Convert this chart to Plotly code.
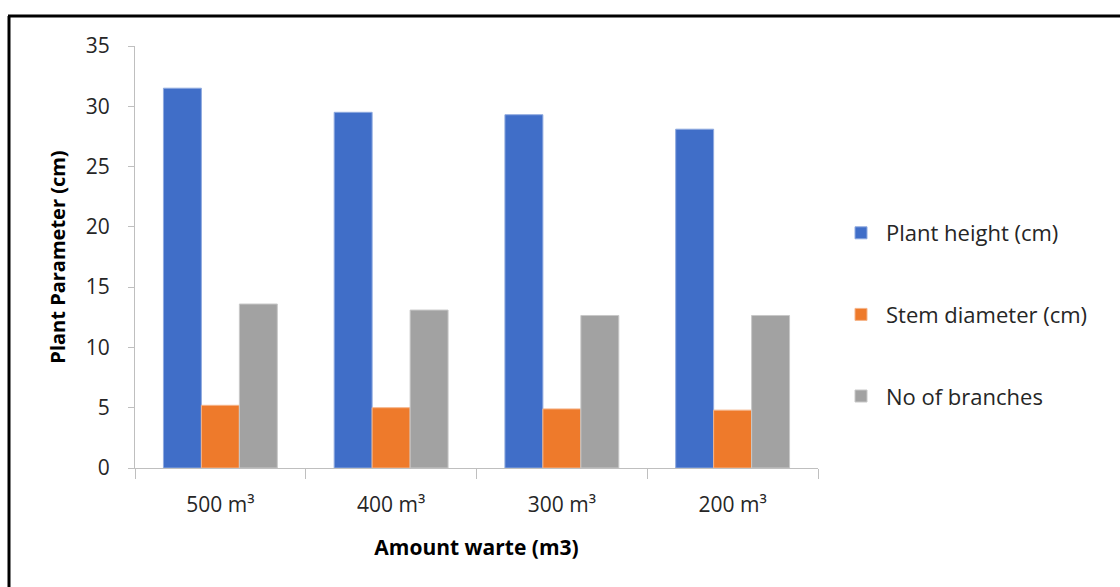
import plotly.graph_objects as go

categories = ["500 m³", "400 m³", "300 m³", "200 m³"]
plant_height = [31.5, 29.5, 29.3, 28.1]
stem_diameter = [5.2, 5.0, 4.9, 4.8]
no_branches = [13.6, 13.1, 12.65, 12.65]
series_names = ["Plant height (cm)", "Stem diameter (cm)", "No of branches"]
colors = ["#406EC8", "#EE7A2B", "#A2A2A2"]
edge_colors = ["#8FAADF", "#F5B48A", "#C8C8C8"]

W, H = 1120, 587
L, R, T, B = 135, 302, 46, 119
pw, ph = W - L - R, H - T - B

fig = go.Figure()
for i, (name, vals) in enumerate(zip(series_names, [plant_height, stem_diameter, no_branches])):
    fig.add_trace(go.Bar(
        x=categories, y=vals, name=name, legendgroup=name,
        marker=dict(color=colors[i], line=dict(color=edge_colors[i], width=1)),
    ))

font_family = "Open Sans, Liberation Sans, sans-serif"

def px_x(p):
    return (p - L) / pw

def px_y(p):
    return (H - B - p) / ph

fig.update_layout(
    width=W, height=H,
    margin=dict(l=L, r=R, t=T, b=B),
    paper_bgcolor="white", plot_bgcolor="white",
    barmode="group", bargap=0.333, bargroupgap=0,
    font=dict(family=font_family, color="#404040"),
    legend=dict(
        x=px_x(836), y=px_y(212), xanchor="left", yanchor="top",
        font=dict(size=22, color="#262626", family=font_family),
        tracegroupgap=50, itemwidth=40,
    ),
    xaxis=dict(
        tickson="boundaries", ticks="outside", ticklen=10, tickcolor="#BFBFBF",
        showline=True, linecolor="#BFBFBF", linewidth=1,
        tickfont=dict(size=21, color="#262626", family=font_family),
        ticklabelstandoff=18,
        title=dict(text="<b>Amount warte (m3)</b>", font=dict(size=21, color="#000000", family=font_family), standoff=23),
        showgrid=False,
    ),
    yaxis=dict(
        range=[0, 35], dtick=5, ticks="outside", ticklen=6, tickcolor="#BFBFBF",
        showline=True, linecolor="#BFBFBF", linewidth=1,
        tickfont=dict(size=21, color="#262626", family=font_family),
        ticklabelstandoff=14,
        title=dict(text="<b>Plant Parameter (cm)</b>", font=dict(size=20, color="#000000", family=font_family), standoff=14),
        showgrid=False, zeroline=False,
    ),
    shapes=[
        dict(type="line", xref="paper", yref="paper",
             x0=px_x(9), x1=px_x(9), y0=px_y(16), y1=px_y(600),
             line=dict(color="black", width=3)),
        dict(type="line", xref="paper", yref="paper",
             x0=px_x(8), x1=px_x(1130), y0=px_y(16), y1=px_y(16),
             line=dict(color="black", width=3)),
    ],
)

fig.write_html("out.html")
